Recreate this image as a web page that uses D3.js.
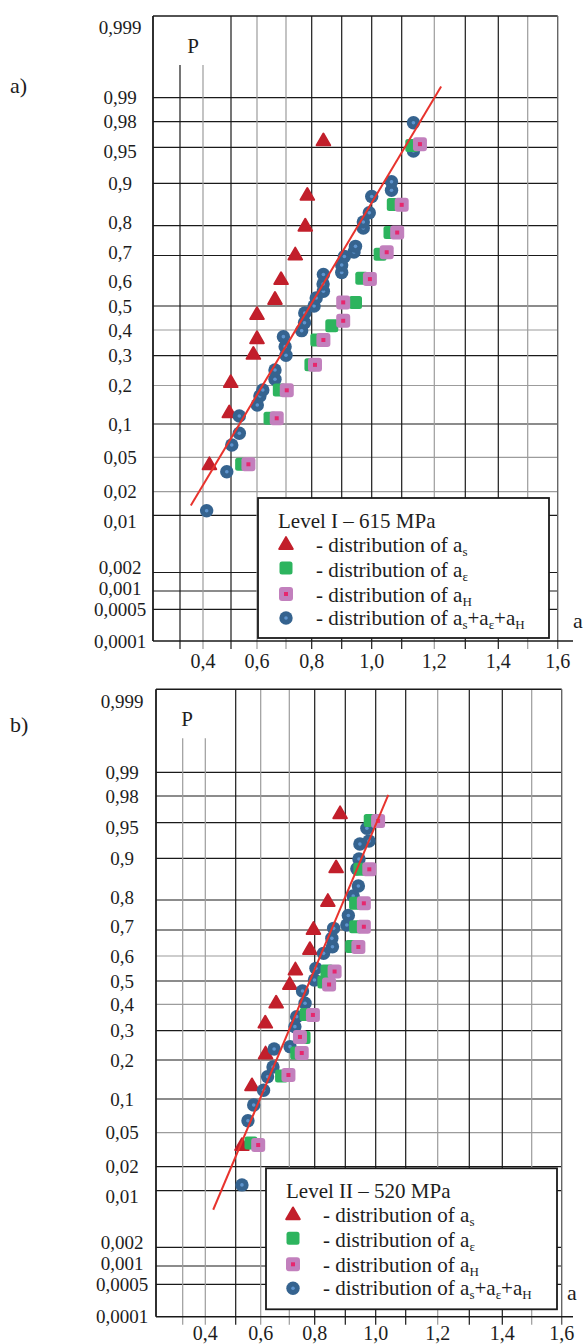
<!DOCTYPE html>
<html>
<head>
<meta charset="utf-8">
<script src="https://cdn.jsdelivr.net/npm/d3@7"></script>
<style>
  html, body { margin: 0; padding: 0; background: #fff; }
  svg text { font-family: "Liberation Serif", "Times New Roman", serif; fill: #1d1d1d; }
</style>
</head>
<body>
<svg id="chart" width="584" height="1344"></svg>
<script>
// ---- axis ticks -----------------------------------------------------------
const probTicks = [0.0001, 0.0005, 0.001, 0.002, 0.01, 0.02, 0.05, 0.1, 0.2, 0.3, 0.4,
                   0.5, 0.6, 0.7, 0.8, 0.9, 0.95, 0.98, 0.99, 0.999];
const probTickLabels = ["0,0001", "0,0005", "0,001", "0,002", "0,01", "0,02", "0,05", "0,1",
                        "0,2", "0,3", "0,4", "0,5", "0,6", "0,7", "0,8", "0,9", "0,95",
                        "0,98", "0,99", "0,999"];
const aTicks = [0.2, 0.3, 0.4, 0.5, 0.6, 0.7, 0.8, 0.9, 1.0, 1.1, 1.2, 1.3, 1.4, 1.5, 1.6];
const aLabelTicks = [0.4, 0.6, 0.8, 1.0, 1.2, 1.4, 1.6];
const aLabelTexts = ["0,4", "0,6", "0,8", "1,0", "1,2", "1,4", "1,6"];

// ---- Level I – 615 MPa ----------------------------------------------------
const levelI_title = "Level I – 615 MPa";
const levelI_as   = [0.423, 0.494, 0.499, 0.586, 0.600, 0.600, 0.662, 0.683, 0.736, 0.775, 0.783, 0.839];
const levelI_as_P = [0.041, 0.123, 0.207, 0.303, 0.363, 0.462, 0.525, 0.606, 0.700, 0.797, 0.875, 0.959];
const levelI_ae   = [0.541, 0.645, 0.677, 0.797, 0.817, 0.867, 0.946, 0.967, 1.028, 1.061, 1.072, 1.131];
const levelI_ae_P = [0.042, 0.112, 0.186, 0.267, 0.360, 0.417, 0.515, 0.613, 0.705, 0.779, 0.856, 0.953];
const levelI_aH   = [0.567, 0.668, 0.703, 0.811, 0.839, 0.905, 0.905, 0.994, 1.050, 1.085, 1.100, 1.156];
const levelI_aH_P = [0.042, 0.112, 0.185, 0.267, 0.360, 0.438, 0.515, 0.610, 0.712, 0.779, 0.855, 0.955];
const levelI_sum   = [0.413, 0.485, 0.503, 0.532, 0.532, 0.601, 0.610, 0.620, 0.662, 0.662, 0.700, 0.697,
                      0.691, 0.761, 0.772, 0.773, 0.808, 0.815, 0.839, 0.838, 0.839, 0.900, 0.900, 0.909,
                      0.941, 0.946, 0.972, 0.972, 0.992, 1.000, 1.066, 1.066, 1.136, 1.136];
const levelI_sum_P = [0.0115, 0.0347, 0.0654, 0.0833, 0.117, 0.1436, 0.1681, 0.1859, 0.219, 0.2494, 0.3016, 0.3339,
                      0.3731, 0.3973, 0.430, 0.4706, 0.500, 0.5331, 0.561, 0.5903, 0.6281, 0.6359, 0.6647, 0.6962,
                      0.7127, 0.733, 0.7931, 0.8106, 0.8356, 0.8738, 0.8867, 0.9028, 0.9461, 0.9792];
const levelI_fit   = [0.347, 1.222];
const levelI_fit_P = [0.0134, 0.9928];

// ---- Level II – 520 MPa ---------------------------------------------------
const levelII_title = "Level II – 520 MPa";
const levelII_as   = [0.525, 0.565, 0.617, 0.616, 0.654, 0.702, 0.724, 0.781, 0.795, 0.843, 0.870, 0.883];
const levelII_as_P = [0.0355, 0.1275, 0.2171, 0.3256, 0.4027, 0.4827, 0.5423, 0.6238, 0.700, 0.794, 0.880, 0.962];
const levelII_ae   = [0.561, 0.673, 0.729, 0.758, 0.766, 0.830, 0.840, 0.921, 0.934, 0.934, 0.948, 0.982];
const levelII_ae_P = [0.0385, 0.1534, 0.2219, 0.275, 0.3603, 0.4957, 0.5403, 0.6376, 0.7119, 0.7901, 0.8781, 0.9534];
const levelII_aH   = [0.590, 0.697, 0.749, 0.742, 0.793, 0.847, 0.865, 0.943, 0.961, 0.961, 0.979, 1.008];
const levelII_aH_P = [0.0365, 0.1561, 0.2219, 0.277, 0.3584, 0.4848, 0.5383, 0.636, 0.7119, 0.7901, 0.8781, 0.9527];
const levelII_sum   = [0.525, 0.549, 0.572, 0.610, 0.624, 0.643, 0.647, 0.703, 0.722, 0.729, 0.762, 0.752,
                       0.799, 0.804, 0.829, 0.858, 0.856, 0.862, 0.905, 0.910, 0.926, 0.943, 0.938, 0.945,
                       0.948, 0.978, 0.971];
const levelII_sum_P = [0.0119, 0.0648, 0.0891, 0.1183, 0.1515, 0.1786, 0.235, 0.2428, 0.3146, 0.3519, 0.4043, 0.4568,
                       0.504, 0.5511, 0.6107, 0.6368, 0.6691, 0.7061, 0.718, 0.751, 0.8116, 0.8387, 0.8794, 0.8987,
                       0.9233, 0.9276, 0.9438];
const levelII_fit   = [0.426, 1.042];
const levelII_fit_P = [0.006, 0.9806];

// ---- inverse standard normal CDF (Acklam) for the probability-paper axis ----
function probit(p) {
  const a = [-3.969683028665376e+01, 2.209460984245205e+02, -2.759285104469687e+02,
             1.383577518672690e+02, -3.066479806614716e+01, 2.506628277459239e+00];
  const b = [-5.447609879822406e+01, 1.615858368580409e+02, -1.556989798598866e+02,
             6.680131188771972e+01, -1.328068155288572e+01];
  const c = [-7.784894002430293e-03, -3.223964580411365e-01, -2.400758277161838e+00,
             -2.549732539343734e+00, 4.374664141464968e+00, 2.938163982698783e+00];
  const d = [7.784695709041462e-03, 3.224671290700398e-01, 2.445134137142996e+00,
             3.754408661907416e+00];
  const pl = 0.02425, ph = 1 - pl;
  let q, r;
  if (p < pl) {
    q = Math.sqrt(-2 * Math.log(p));
    return (((((c[0]*q+c[1])*q+c[2])*q+c[3])*q+c[4])*q+c[5]) / ((((d[0]*q+d[1])*q+d[2])*q+d[3])*q+1);
  }
  if (p > ph) {
    q = Math.sqrt(-2 * Math.log(1 - p));
    return -(((((c[0]*q+c[1])*q+c[2])*q+c[3])*q+c[4])*q+c[5]) / ((((d[0]*q+d[1])*q+d[2])*q+d[3])*q+1);
  }
  q = p - 0.5; r = q * q;
  return (((((a[0]*r+a[1])*r+a[2])*r+a[3])*r+a[4])*r+a[5])*q / (((((b[0]*r+b[1])*r+b[2])*r+b[3])*r+b[4])*r+1);
}

const COL = {
  tri: "#c21f2b", green: "#2db45e", pink: "#c280bd", pinkDot: "#e6276e",
  blue: "#35638f", blueDot: "#5f95cf", fit: "#e8332d",
  dark: "#1a1a1a", light: "#9c9c9c"
};

// typeset offsets of a few probability labels relative to their ruled lines
const labelNudge = new Map([[0.01, 6], [0.002, -5], [0.001, -3], [0.95, 4.5], [0.8, -3], [0.7, -3.5]]);

const svg = d3.select("#chart");

// marker painters ---------------------------------------------------------
const triPath = d3.symbol().type(d3.symbolTriangle).size(80)();
function drawTri(sel) {
  sel.append("path").attr("d", triPath).attr("fill", COL.tri)
    .attr("stroke", COL.tri).attr("stroke-width", 2).attr("stroke-linejoin", "round");
}
function drawGreen(sel) {
  sel.append("rect").attr("x", -6.5).attr("y", -6.5).attr("width", 13).attr("height", 13)
    .attr("rx", 2.5).attr("fill", COL.green);
}
function drawPink(sel) {
  sel.append("rect").attr("x", -7).attr("y", -7).attr("width", 14).attr("height", 14)
    .attr("rx", 3).attr("fill", COL.pink);
  sel.append("rect").attr("x", -2).attr("y", -2).attr("width", 4).attr("height", 4)
    .attr("fill", COL.pinkDot);
}
function drawBlue(sel) {
  sel.append("circle").attr("r", 6.7).attr("fill", COL.blue);
  sel.append("circle").attr("r", 1.8).attr("fill", COL.blueDot);
}

const legendRows = [
  { draw: drawTri,   parts: [["- distribution of a", 0], ["s", 1]] },
  { draw: drawGreen, parts: [["- distribution of a", 0], ["ε", 1]] },
  { draw: drawPink,  parts: [["- distribution of a", 0], ["H", 1]] },
  { draw: drawBlue,  parts: [["- distribution of a", 0], ["s", 1], ["+a", 0], ["ε", 1], ["+a", 0], ["H", 1]] }
];

function drawPanel(cfg) {
  const g = svg.append("g");
  const x = d3.scaleLinear().domain(aTicks).range(cfg.xRange);
  const zy = d3.scaleLinear().domain(probTicks.map(probit)).range(cfg.yRange);
  const y = p => zy(probit(p));
  const left = x(aTicks[0]), right = x(aTicks[aTicks.length - 1]);
  const top = cfg.top, bottom = y(probTicks[0]);

  // horizontal grid
  g.append("g").selectAll("line").data(cfg.hGrid).join("line")
    .attr("x1", left).attr("x2", right)
    .attr("y1", d => y(d)).attr("y2", d => y(d))
    .attr("stroke", d => cfg.hLight.includes(d) ? COL.light : COL.dark)
    .attr("stroke-width", 1.2);

  // vertical grid with short ticks below the axis
  g.append("g").selectAll("line").data(aTicks.slice(1, -1)).join("line")
    .attr("x1", d => x(d)).attr("x2", d => x(d))
    .attr("y1", d => (x(d) < left + cfg.pBoxW ? top + cfg.pBoxH : top))
    .attr("y2", bottom + 8)
    .attr("stroke", d => cfg.vLight.includes(d) ? COL.light : COL.dark)
    .attr("stroke-width", 1.2);

  // frame
  g.append("line").attr("x1", left).attr("x2", right).attr("y1", top).attr("y2", top)
    .attr("stroke", COL.dark).attr("stroke-width", 1.4);
  g.append("line").attr("x1", right).attr("x2", right).attr("y1", top).attr("y2", bottom + 8)
    .attr("stroke", "#666").attr("stroke-width", 1.4);
  g.append("line").attr("x1", left).attr("x2", 573).attr("y1", bottom).attr("y2", bottom)
    .attr("stroke", COL.dark).attr("stroke-width", 1.5);
  g.append("line").attr("x1", left).attr("x2", left).attr("y1", top).attr("y2", bottom)
    .attr("stroke", COL.dark).attr("stroke-width", 1.8);

  // y tick labels
  g.append("g").selectAll("text").data(probTicks).join("text")
    .attr("x", cfg.yLabelX).attr("y", d => y(d) + 6.5 + (labelNudge.get(d) || 0))
    .attr("text-anchor", "middle").attr("font-size", 19)
    .text((d, i) => probTickLabels[i]);

  // x tick labels
  g.append("g").selectAll("text").data(aLabelTicks).join("text")
    .attr("x", d => x(d)).attr("y", cfg.xLabelY)
    .attr("text-anchor", "middle").attr("font-size", 20)
    .text((d, i) => aLabelTexts[i]);

  // axis names and panel tag
  g.append("text").attr("x", left + cfg.pDx).attr("y", top + 37).attr("text-anchor", "middle")
    .attr("font-size", 21).text("P");
  g.append("text").attr("x", cfg.aLabelX).attr("y", cfg.aLabelY).attr("font-size", 22).text("a");
  g.append("text").attr("x", 10).attr("y", cfg.tagY).attr("font-size", 22).text(cfg.tag);

  // data markers
  const put = (xs, ps, painter) => {
    g.append("g").selectAll("g").data(xs.map((v, i) => [v, ps[i]])).join("g")
      .attr("transform", d => `translate(${x(d[0])},${y(d[1])})`)
      .each(function () { painter(d3.select(this)); });
  };
  put(cfg.as, cfg.asP, drawTri);
  put(cfg.sum, cfg.sumP, drawBlue);
  put(cfg.ae, cfg.aeP, drawGreen);
  put(cfg.aH, cfg.aHP, drawPink);

  // fitted straight line on probability paper
  g.append("line")
    .attr("x1", x(cfg.fit[0])).attr("y1", y(cfg.fitP[0]))
    .attr("x2", x(cfg.fit[1])).attr("y2", y(cfg.fitP[1]))
    .attr("stroke", COL.fit).attr("stroke-width", 2);

  // legend
  const L = cfg.legend;
  const lg = g.append("g").attr("transform", `translate(${L.x},${L.y})`);
  lg.append("rect").attr("width", L.w).attr("height", L.h)
    .attr("fill", "#fff").attr("stroke", COL.dark).attr("stroke-width", 1.8);
  lg.append("text").attr("x", 20).attr("y", 30).attr("font-size", 21).text(cfg.title);
  const markerDy = [47, 70, 96, 120], textDy = [54, 79, 104, 127];
  legendRows.forEach((row, i) => {
    const m = lg.append("g").attr("transform", `translate(${L.markerDx},${markerDy[i]})`);
    row.draw(m);
    const t = lg.append("text").attr("x", L.textDx).attr("y", textDy[i]).attr("font-size", 21);
    let shifted = false;
    row.parts.forEach(([s, sub]) => {
      const ts = t.append("tspan").text(s);
      if (sub) { ts.attr("font-size", 13).attr("dy", shifted ? 0 : 4); shifted = true; }
      else if (shifted) { ts.attr("dy", -4); shifted = false; }
    });
  });
}

drawPanel({
  tag: "a)", tagY: 93, title: levelI_title,
  xRange: [153, 180, 203, 231, 257, 286, 311.7, 341.7, 371.7, 401.7, 434.3, 465.3, 498.3, 527.7, 557.7],
  yRange: [641, 609.3, 591, 572.5, 515.3, 491.7, 457.3, 424, 385.5, 355.7, 330, 306, 281.6, 255.5,
           225.7, 183.3, 147.3, 121.7, 97.7, 27],
  top: 16, pBoxW: 70, pBoxH: 49, pDx: 40, yLabelX: 120, xLabelY: 668, aLabelX: 573, aLabelY: 628,
  hGrid: [0.0005, 0.001, 0.002, 0.01, 0.02, 0.05, 0.1, 0.2, 0.3, 0.4, 0.5, 0.7, 0.8, 0.9, 0.95, 0.98, 0.99],
  hLight: [0.02, 0.05, 0.2, 0.4],
  vLight: [0.4, 0.6, 0.7, 1.2, 1.5],
  as: levelI_as, asP: levelI_as_P, ae: levelI_ae, aeP: levelI_ae_P,
  aH: levelI_aH, aHP: levelI_aH_P, sum: levelI_sum, sumP: levelI_sum_P,
  fit: levelI_fit, fitP: levelI_fit_P,
  legend: { x: 258, y: 498, w: 291, h: 140, markerDx: 28, textDx: 58 }
});

drawPanel({
  tag: "b)", tagY: 732, title: levelII_title,
  xRange: [156, 182.7, 205.3, 235.7, 260.7, 289.3, 314.7, 345.3, 375.7, 405.7, 437.7, 469.3, 502.3, 531.7, 561.7],
  yRange: [1316.7, 1284.3, 1266, 1247.3, 1190.7, 1166.7, 1132.7, 1099, 1060, 1030.7, 1004.3, 981, 956, 930,
           900, 858.3, 822.7, 796, 772.3, 701.7],
  top: 689.3, pBoxW: 70, pBoxH: 49, pDx: 31, yLabelX: 122, xLabelY: 1340, aLabelX: 567, aLabelY: 1300,
  hGrid: [0.0005, 0.001, 0.002, 0.01, 0.02, 0.05, 0.1, 0.2, 0.3, 0.4, 0.5, 0.6, 0.7, 0.8, 0.9, 0.95, 0.98, 0.99],
  hLight: [0.05, 0.4, 0.6],
  vLight: [0.3, 0.4, 0.6, 0.7, 1.2, 1.5],
  as: levelII_as, asP: levelII_as_P, ae: levelII_ae, aeP: levelII_ae_P,
  aH: levelII_aH, aHP: levelII_aH_P, sum: levelII_sum, sumP: levelII_sum_P,
  fit: levelII_fit, fitP: levelII_fit_P,
  legend: { x: 266, y: 1168.3, w: 291, h: 141, markerDx: 27, textDx: 57 }
});
</script>
</body>
</html>
